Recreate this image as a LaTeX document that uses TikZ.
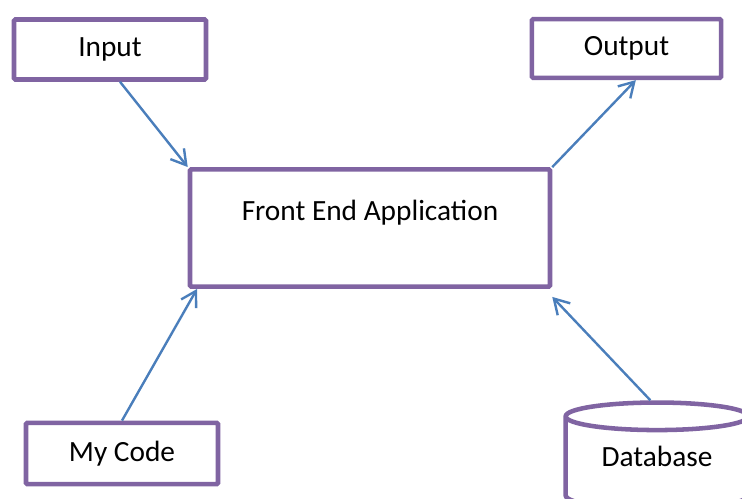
\documentclass[tikz,border=0pt]{standalone}
\usepackage{fontspec}
\setmainfont{Carlito}
\usepackage{tikz}
\usetikzlibrary{arrows.meta,shapes.geometric}
\usepackage{xcolor}
\definecolor{boxpurple}{HTML}{8064a2}
\definecolor{linkblue}{HTML}{4a7ebb}

\begin{document}
\begin{tikzpicture}[
    x=0.75pt, y=-0.75pt,
    blk/.style={draw=boxpurple, line width=3.4pt, rounded corners=1pt,
                fill=white, font=\fontsize{22}{26}\selectfont,
                minimum width=#1},
    db/.style={cylinder, shape border rotate=90, aspect=0.23,
               draw=boxpurple, line width=3.4pt, fill=white,
               minimum width=137pt, minimum height=80pt,
               text depth=14pt,
               font=\fontsize{22}{26}\selectfont},
    arr/.style={-{Straight Barb[length=11pt, width=13pt]},
                line width=1.8pt, linkblue}
  ]
    \useasboundingbox (0,0) rectangle (742,499);

    % === Boxes ===
    \node[blk=144pt, minimum height=45pt] (input) at (110,49.5) {Input};
    \node[blk=142pt, minimum height=44pt] (output) at (626.5,48.5) {Output};
    \node[blk=270pt, minimum height=88pt, text depth=26pt]
      (front) at (370,228) {Front End Application};
    \node[blk=144pt, minimum height=46pt] (mycode) at (122,453.5) {My Code};

    % === Database ===
    \node[db] (data) at (657,466) {Database};

    % === Links ===
    \draw[arr] ([xshift=7.5pt]input.south) -- (front.north west);
    \draw[arr] (front.north east) -- ([xshift=7pt]output.south);
    \draw[arr] (mycode.north) -- ([xshift=7pt]front.south west);
    \draw[arr] ([xshift=-5pt]data.north) -- ([yshift=-6pt]front.south east);
  \end{tikzpicture}
\end{document}
